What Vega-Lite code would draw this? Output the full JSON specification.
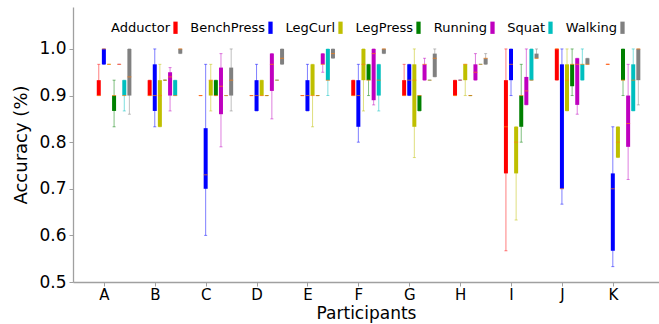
{
  "$schema": "https://vega.github.io/schema/vega-lite/v6.json",
  "width": 586,
  "height": 275,
  "autosize": {"type": "none"},
  "padding": {"left": 73, "top": 7, "right": 0, "bottom": 42},
  "background": "white",
  "config": {
    "view": {"stroke": null},
    "axis": {"domainColor": "#a0a0a0", "tickColor": "#a0a0a0", "domainWidth": 1.3, "labelColor": "#000", "titleColor": "#000", "labelFont": "DejaVu Sans", "titleFont": "DejaVu Sans", "grid": false, "titleFontWeight": "normal"}
  },
  "data": {"values": [
    {"p":"A","ex":"Adductor","lo":0.9,"q1":0.9,"med":0.9,"q3":0.933,"hi":0.967},
    {"p":"A","ex":"BenchPress","lo":0.967,"q1":0.967,"med":1.0,"q3":1.0,"hi":1.0},
    {"p":"A","ex":"LegCurl","lo":0.967,"q1":0.967,"med":0.967,"q3":0.967,"hi":0.967},
    {"p":"A","ex":"LegPress","lo":0.833,"q1":0.867,"med":0.9,"q3":0.9,"hi":0.933},
    {"p":"A","ex":"Running","lo":0.967,"q1":0.967,"med":0.967,"q3":0.967,"hi":0.967},
    {"p":"A","ex":"Squat","lo":0.867,"q1":0.9,"med":0.9,"q3":0.933,"hi":0.933},
    {"p":"A","ex":"Walking","lo":0.86,"q1":0.9,"med":0.94,"q3":1.0,"hi":1.0},
    {"p":"B","ex":"Adductor","lo":0.9,"q1":0.9,"med":0.9,"q3":0.933,"hi":0.933},
    {"p":"B","ex":"BenchPress","lo":0.833,"q1":0.867,"med":0.9,"q3":0.967,"hi":1.0},
    {"p":"B","ex":"LegCurl","lo":0.833,"q1":0.833,"med":0.9,"q3":0.933,"hi":0.967},
    {"p":"B","ex":"LegPress","lo":0.933,"q1":0.933,"med":0.933,"q3":0.933,"hi":0.933},
    {"p":"B","ex":"Running","lo":0.867,"q1":0.9,"med":0.94,"q3":0.95,"hi":0.96},
    {"p":"B","ex":"Squat","lo":0.9,"q1":0.9,"med":0.9,"q3":0.933,"hi":0.933},
    {"p":"B","ex":"Walking","lo":0.99,"q1":0.99,"med":1.0,"q3":1.0,"hi":1.0},
    {"p":"C","ex":"Adductor","lo":0.9,"q1":0.9,"med":0.9,"q3":0.9,"hi":0.9},
    {"p":"C","ex":"BenchPress","lo":0.6,"q1":0.7,"med":0.73,"q3":0.83,"hi":0.967},
    {"p":"C","ex":"LegCurl","lo":0.867,"q1":0.9,"med":0.933,"q3":0.933,"hi":0.967},
    {"p":"C","ex":"LegPress","lo":0.9,"q1":0.9,"med":0.9,"q3":0.933,"hi":0.933},
    {"p":"C","ex":"Running","lo":0.79,"q1":0.86,"med":0.92,"q3":0.96,"hi":0.99},
    {"p":"C","ex":"Squat","lo":0.9,"q1":0.9,"med":0.9,"q3":0.9,"hi":0.9},
    {"p":"C","ex":"Walking","lo":0.867,"q1":0.9,"med":0.933,"q3":0.96,"hi":1.0},
    {"p":"D","ex":"Adductor","lo":0.9,"q1":0.9,"med":0.9,"q3":0.9,"hi":0.9},
    {"p":"D","ex":"BenchPress","lo":0.867,"q1":0.867,"med":0.9,"q3":0.933,"hi":0.967},
    {"p":"D","ex":"LegCurl","lo":0.9,"q1":0.9,"med":0.9,"q3":0.933,"hi":0.933},
    {"p":"D","ex":"LegPress","lo":0.9,"q1":0.9,"med":0.9,"q3":0.9,"hi":0.9},
    {"p":"D","ex":"Running","lo":0.85,"q1":0.91,"med":0.967,"q3":0.99,"hi":0.99},
    {"p":"D","ex":"Squat","lo":0.933,"q1":0.933,"med":0.933,"q3":0.933,"hi":0.933},
    {"p":"D","ex":"Walking","lo":0.967,"q1":0.967,"med":0.98,"q3":1.0,"hi":1.0},
    {"p":"E","ex":"Adductor","lo":0.9,"q1":0.9,"med":0.9,"q3":0.9,"hi":0.9},
    {"p":"E","ex":"BenchPress","lo":0.867,"q1":0.867,"med":0.9,"q3":0.933,"hi":0.967},
    {"p":"E","ex":"LegCurl","lo":0.833,"q1":0.9,"med":0.9,"q3":0.967,"hi":0.967},
    {"p":"E","ex":"LegPress","lo":0.9,"q1":0.9,"med":0.9,"q3":0.9,"hi":0.9},
    {"p":"E","ex":"Running","lo":0.95,"q1":0.967,"med":0.967,"q3":0.99,"hi":0.99},
    {"p":"E","ex":"Squat","lo":0.9,"q1":0.933,"med":0.933,"q3":1.0,"hi":1.0},
    {"p":"E","ex":"Walking","lo":0.98,"q1":0.98,"med":0.99,"q3":1.0,"hi":1.0},
    {"p":"F","ex":"Adductor","lo":0.9,"q1":0.9,"med":0.9,"q3":0.933,"hi":0.933},
    {"p":"F","ex":"BenchPress","lo":0.8,"q1":0.833,"med":0.9,"q3":0.933,"hi":0.967},
    {"p":"F","ex":"LegCurl","lo":0.867,"q1":0.933,"med":0.967,"q3":1.0,"hi":1.0},
    {"p":"F","ex":"LegPress","lo":0.9,"q1":0.933,"med":0.933,"q3":0.967,"hi":0.967},
    {"p":"F","ex":"Running","lo":0.88,"q1":0.89,"med":0.99,"q3":1.0,"hi":1.0},
    {"p":"F","ex":"Squat","lo":0.867,"q1":0.9,"med":0.933,"q3":0.967,"hi":0.967},
    {"p":"F","ex":"Walking","lo":0.99,"q1":0.99,"med":1.0,"q3":1.0,"hi":1.0},
    {"p":"G","ex":"Adductor","lo":0.9,"q1":0.9,"med":0.9,"q3":0.933,"hi":0.967},
    {"p":"G","ex":"BenchPress","lo":0.9,"q1":0.9,"med":0.933,"q3":0.967,"hi":0.967},
    {"p":"G","ex":"LegCurl","lo":0.767,"q1":0.833,"med":0.933,"q3":0.967,"hi":1.0},
    {"p":"G","ex":"LegPress","lo":0.867,"q1":0.867,"med":0.9,"q3":0.9,"hi":0.9},
    {"p":"G","ex":"Running","lo":0.933,"q1":0.933,"med":0.967,"q3":0.967,"hi":0.98},
    {"p":"G","ex":"Squat","lo":0.933,"q1":0.933,"med":0.933,"q3":0.933,"hi":0.933},
    {"p":"G","ex":"Walking","lo":0.94,"q1":0.94,"med":0.98,"q3":0.99,"hi":1.0},
    {"p":"H","ex":"Adductor","lo":0.9,"q1":0.9,"med":0.9,"q3":0.933,"hi":0.933},
    {"p":"H","ex":"BenchPress","lo":0.933,"q1":0.933,"med":0.933,"q3":0.933,"hi":0.933},
    {"p":"H","ex":"LegCurl","lo":0.9,"q1":0.933,"med":0.967,"q3":0.967,"hi":0.967},
    {"p":"H","ex":"LegPress","lo":0.9,"q1":0.9,"med":0.9,"q3":0.9,"hi":0.9},
    {"p":"H","ex":"Running","lo":0.933,"q1":0.933,"med":0.95,"q3":0.967,"hi":0.99},
    {"p":"H","ex":"Squat","lo":0.967,"q1":0.967,"med":0.967,"q3":0.967,"hi":0.967},
    {"p":"H","ex":"Walking","lo":0.967,"q1":0.967,"med":0.98,"q3":0.98,"hi":0.99},
    {"p":"I","ex":"Adductor","lo":0.567,"q1":0.733,"med":0.833,"q3":0.933,"hi":1.0},
    {"p":"I","ex":"BenchPress","lo":0.9,"q1":0.933,"med":0.967,"q3":1.0,"hi":1.0},
    {"p":"I","ex":"LegCurl","lo":0.633,"q1":0.733,"med":0.8,"q3":0.833,"hi":0.833},
    {"p":"I","ex":"LegPress","lo":0.8,"q1":0.833,"med":0.9,"q3":0.9,"hi":0.967},
    {"p":"I","ex":"Running","lo":0.88,"q1":0.88,"med":0.91,"q3":0.94,"hi":1.0},
    {"p":"I","ex":"Squat","lo":0.933,"q1":0.933,"med":0.933,"q3":1.0,"hi":1.0},
    {"p":"I","ex":"Walking","lo":0.98,"q1":0.98,"med":0.98,"q3":0.99,"hi":1.0},
    {"p":"J","ex":"Adductor","lo":0.933,"q1":0.933,"med":1.0,"q3":1.0,"hi":1.0},
    {"p":"J","ex":"BenchPress","lo":0.667,"q1":0.7,"med":0.7,"q3":0.967,"hi":1.0},
    {"p":"J","ex":"LegCurl","lo":0.867,"q1":0.867,"med":0.933,"q3":0.967,"hi":1.0},
    {"p":"J","ex":"LegPress","lo":0.9,"q1":0.92,"med":0.967,"q3":0.967,"hi":1.0},
    {"p":"J","ex":"Running","lo":0.86,"q1":0.88,"med":0.967,"q3":0.98,"hi":0.98},
    {"p":"J","ex":"Squat","lo":0.933,"q1":0.933,"med":0.967,"q3":0.967,"hi":1.0},
    {"p":"J","ex":"Walking","lo":0.967,"q1":0.967,"med":0.967,"q3":0.98,"hi":0.98},
    {"p":"K","ex":"Adductor","lo":0.967,"q1":0.967,"med":0.967,"q3":0.967,"hi":0.967},
    {"p":"K","ex":"BenchPress","lo":0.533,"q1":0.567,"med":0.7,"q3":0.733,"hi":0.833},
    {"p":"K","ex":"LegCurl","lo":0.767,"q1":0.767,"med":0.8,"q3":0.833,"hi":0.833},
    {"p":"K","ex":"LegPress","lo":0.9,"q1":0.933,"med":0.933,"q3":1.0,"hi":1.0},
    {"p":"K","ex":"Running","lo":0.72,"q1":0.79,"med":0.84,"q3":0.9,"hi":0.967},
    {"p":"K","ex":"Squat","lo":0.867,"q1":0.867,"med":0.933,"q3":0.967,"hi":1.0},
    {"p":"K","ex":"Walking","lo":0.88,"q1":0.933,"med":1.0,"q3":1.0,"hi":1.0}
  ]},
  "encoding": {
    "x": {"field": "p", "type": "nominal", "title": "Participants",
      "scale": {"paddingInner": 0.198, "paddingOuter": 0.356},
      "axis": {"labelAngle": 0, "tickOffset": -7.65, "labelFontSize": 15, "titleFontSize": 17, "tickSize": 4, "labelPadding": 1, "titlePadding": 3}},
    "xOffset": {"field": "ex", "type": "nominal",
      "scale": {"domain": [" ", "Adductor", "BenchPress", "LegCurl", "LegPress", "Running", "Squat", "Walking"], "paddingInner": 0, "paddingOuter": 0}},
    "color": {"field": "ex", "type": "nominal",
      "scale": {"domain": ["Adductor", "BenchPress", "LegCurl", "LegPress", "Running", "Squat", "Walking"], "range": ["#ff0000", "#0000ff", "#bfbf00", "#008000", "#bf00bf", "#00bfbf", "#808080"]},
      "legend": {"orient": "none", "legendX": 96, "legendY": 14, "direction": "horizontal", "title": null, "labelAlign": "right", "labelOffset": -12, "labelFontSize": 13, "labelFont": "DejaVu Sans", "labelColor": "#000", "symbolType": "M-0.35,-1H0.35V1H-0.35Z", "symbolSize": 150, "columnPadding": 12, "symbolStrokeWidth": 0, "symbolOpacity": 1}}
  },
  "layer": [
    {"mark": {"type": "rule", "opacity": 0.5, "strokeWidth": 1},
     "encoding": {"y": {"field": "lo", "type": "quantitative", "title": "Accuracy (%)",
        "scale": {"domain": [0.5, 1.09], "nice": false, "zero": false},
        "axis": {"values": [0.5, 0.6, 0.7, 0.8, 0.9, 1.0], "format": ".1f", "labelFontSize": 17, "titleFontSize": 18, "tickSize": 4, "labelPadding": 3, "titlePadding": 8}},
       "y2": {"field": "hi"}}},
    {"mark": {"type": "tick", "opacity": 0.5, "size": 3, "thickness": 1},
     "encoding": {"y": {"field": "lo", "type": "quantitative"}}},
    {"mark": {"type": "tick", "opacity": 0.5, "size": 3, "thickness": 1},
     "encoding": {"y": {"field": "hi", "type": "quantitative"}}},
    {"mark": {"type": "bar", "width": 4},
     "encoding": {"y": {"field": "q1", "type": "quantitative"}, "y2": {"field": "q3"}}},
    {"mark": {"type": "tick", "size": 4, "thickness": 1, "color": "#ff7f0e"},
     "encoding": {"y": {"field": "med", "type": "quantitative"}, "color": {"value": "#ff7f0e"}}}
  ]
}
